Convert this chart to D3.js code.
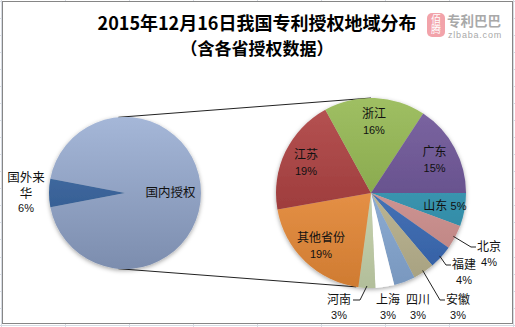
<!DOCTYPE html>
<html>
<head>
<meta charset="utf-8">
<script src="https://cdn.jsdelivr.net/npm/d3@7/dist/d3.min.js"></script>
<style>
  html, body { margin: 0; padding: 0; background: #fff; }
  svg { display: block; }
  text { font-family: "Liberation Sans", "Noto Sans CJK SC", sans-serif; }
</style>
</head>
<body>
<svg id="chart" width="515" height="327"></svg>
<script>
// ---- data ----
const titleLines = ["2015年12月16日我国专利授权地域分布", "（含各省授权数据）"];

// first pie: domestic vs foreign grants (percent of all grants)
const mainCategories = ["国内授权", "国外来华"];
const mainValues = [94.0, 6.0];

// second pie: breakdown of domestic grants by province (percent of all grants)
const provinces = ["山东", "北京", "福建", "安徽", "四川", "上海", "河南", "其他省份", "江苏", "浙江", "广东"];
const provinceValues = [5.3, 3.9, 3.8, 3.4, 3.4, 3.0, 2.7, 18.9, 18.6, 16.2, 14.8];

// ---- styles ----
const mainColors = ["#94a9d0", "#2d5e9e"];
const provinceColors = ["#2c98b8", "#dc9896", "#3b6fc0", "#c7bf98", "#8fb4e3", "#ffffff",
                        "#d5e3b8", "#f8933a", "#a93434", "#8db345", "#644a92"];
// labels that sit outside the second pie: [dx, dy] of the first line from its centre
const outsideLabels = {
  "北京": [118, 54], "福建": [93, 72], "安徽": [87, 107],
  "四川": [47, 107], "上海": [17, 107], "河南": [-32, 107]
};
const leaderSide = { "北京": "left", "福建": "left", "安徽": "left", "河南": "right" };

const W = 515, H = 327;
const svg = d3.select("#chart");
const defs = svg.append("defs");

// spreadsheet grid peeking around the chart frame
const grid = svg.append("g").attr("stroke", "#d6dbe3").attr("stroke-width", 1);
grid.selectAll("line.v").data(d3.range(1, W, 64)).join("line")
  .attr("x1", d => d + 0.5).attr("x2", d => d + 0.5).attr("y1", 0).attr("y2", H);
grid.selectAll("line.h").data(d3.range(0.5, H, 17.07)).join("line")
  .attr("y1", d => Math.round(d) + 0.5).attr("y2", d => Math.round(d) + 0.5).attr("x1", 0).attr("x2", W);

// chart frame
svg.append("rect").attr("x", 2.5).attr("y", 1.5).attr("width", 510).attr("height", 322)
  .attr("fill", "#fff").attr("stroke", "#868686").attr("stroke-width", 1);

// title
svg.append("text").attr("x", 257).attr("y", 30).attr("text-anchor", "middle")
  .attr("font-size", 18).attr("font-weight", "bold").attr("fill", "#000")
  .style("font-family", "'Noto Sans CJK SC', sans-serif")
  .text(titleLines[0]);
svg.append("text").attr("x", 257).attr("y", 55).attr("text-anchor", "middle")
  .attr("font-size", 17).attr("font-weight", "bold").attr("fill", "#000")
  .style("font-family", "'Noto Sans CJK SC', sans-serif")
  .text(titleLines[1]);

// site logo
const logo = svg.append("g");
logo.append("rect").attr("x", 427).attr("y", 13).attr("width", 18).attr("height", 24).attr("rx", 5)
  .attr("fill", "#f2a3aa");
logo.append("text").attr("x", 436).attr("y", 14.5)
  .attr("font-size", 10).attr("fill", "#fff")
  .style("font-family", "'Noto Sans CJK SC'").style("writing-mode", "vertical-rl")
  .attr("text-anchor", "start").text("佰腾");
logo.append("text").attr("x", 447).attr("y", 26).attr("font-size", 13.5).attr("font-weight", "bold")
  .attr("fill", "#a9a9a9").style("font-family", "'Noto Sans CJK SC'").text("专利巴巴");
logo.append("text").attr("x", 448).attr("y", 38).attr("font-size", 9).attr("letter-spacing", 0.8)
  .attr("fill", "#a9a9a9").text("zlbaba.com");

// soft shadow under the pies
const shadow = defs.append("filter").attr("id", "pieShadow")
  .attr("x", "-10%").attr("y", "-10%").attr("width", "120%").attr("height", "125%");
shadow.append("feDropShadow").attr("dx", 0).attr("dy", 1.5).attr("stdDeviation", 2)
  .attr("flood-color", "#000").attr("flood-opacity", 0.35);

function gradient(id, color, cy, r) {
  const c = d3.color(color);
  const g = defs.append("linearGradient").attr("id", id)
    .attr("gradientUnits", "userSpaceOnUse").attr("x1", 0).attr("x2", 0)
    .attr("y1", cy - r).attr("y2", cy + r);
  const top = color === "#ffffff" ? c : d3.interpolateRgb(c, "#fff")(0.16);
  const bot = color === "#ffffff" ? c : c.darker(0.5);
  g.append("stop").attr("offset", "0%").attr("stop-color", top);
  g.append("stop").attr("offset", "100%").attr("stop-color", bot);
  return `url(#${id})`;
}

const deg = Math.PI / 180;
const pt = (cx, cy, r, a) => [cx + r * Math.sin(a), cy - r * Math.cos(a)];

// ---- first pie ----
const c1 = { x: 125, y: 193, r: 76 };
const foreignShare = mainValues[1] / d3.sum(mainValues) * 2 * Math.PI;
const pie1 = d3.pie().sort(null).value(d => d)
  .startAngle(-Math.PI / 2 + foreignShare / 2).endAngle(1.5 * Math.PI + foreignShare / 2);
const arcs1 = pie1(mainValues);
const arc1 = d3.arc().innerRadius(0).outerRadius(c1.r);

// ---- second pie ----
const c2 = { x: 371, y: 193, r: 95 };
const pie2 = d3.pie().sort(null).value(d => d)
  .startAngle(Math.PI / 2).endAngle(Math.PI / 2 + 2 * Math.PI);
const arcs2 = pie2(provinceValues);
const arc2 = d3.arc().innerRadius(0).outerRadius(c2.r);

// connector lines between the two pies
const conn = svg.append("g").attr("stroke", "#222").attr("stroke-width", 1).attr("fill", "none");
[[pt(c1.x, c1.y, c1.r, -5 * deg), pt(c2.x, c2.y, c2.r, 0)],
 [pt(c1.x, c1.y, c1.r, 185 * deg), pt(c2.x, c2.y, c2.r, 189 * deg)]]
  .forEach(([a, b]) => conn.append("line").attr("x1", a[0]).attr("y1", a[1]).attr("x2", b[0]).attr("y2", b[1]));

const g1 = svg.append("g").attr("transform", `translate(${c1.x},${c1.y})`).attr("filter", "url(#pieShadow)");
g1.selectAll("path").data(arcs1).join("path")
  .attr("d", arc1)
  .attr("fill", (d, i) => gradient("g1_" + i, mainColors[i], 0, c1.r));

const g2 = svg.append("g").attr("transform", `translate(${c2.x},${c2.y})`).attr("filter", "url(#pieShadow)");
g2.selectAll("path").data(arcs2).join("path")
  .attr("d", arc2)
  .attr("fill", (d, i) => gradient("g2_" + i, provinceColors[i], 0, c2.r));

const pct = v => Math.round(v) + "%";
const labels = svg.append("g").attr("font-size", 12).attr("fill", "#111");

// first pie labels
{
  const a = arcs1[0];
  const m = (a.startAngle + a.endAngle) / 2;
  const p = pt(c1.x, c1.y, c1.r * 0.6, m);
  labels.append("text").attr("x", p[0]).attr("y", p[1] + 4).attr("text-anchor", "middle")
    .attr("font-size", 12.5).text(mainCategories[0]);
  const b = arcs1[1];
  const mb = (b.startAngle + b.endAngle) / 2;
  const q = pt(c1.x, c1.y, c1.r + 23, mb);
  const name = mainCategories[1];
  const t = labels.append("text").attr("text-anchor", "middle").attr("font-size", 12.5);
  t.append("tspan").attr("x", q[0]).attr("y", q[1] - 11).text(name.slice(0, 3));
  t.append("tspan").attr("x", q[0]).attr("y", q[1] + 5).text(name.slice(3));
  labels.append("text").attr("x", q[0]).attr("y", q[1] + 19).attr("text-anchor", "middle")
    .attr("font-size", 11).text(pct(mainValues[1]));
}

// second pie labels
arcs2.forEach((a, i) => {
  const name = provinces[i];
  const m = (a.startAngle + a.endAngle) / 2;
  if (outsideLabels[name]) {
    const [dx, dy] = outsideLabels[name];
    const x = c2.x + dx, y = c2.y + dy;
    const t = labels.append("text").attr("x", x).attr("y", y + 4).attr("text-anchor", "middle").text(name);
    labels.append("text").attr("x", x).attr("y", y + 19).attr("text-anchor", "middle")
      .attr("font-size", 11).text(pct(provinceValues[i]));
    const side = leaderSide[name];
    if (side) {
      const w = t.node().getComputedTextLength();
      const s = pt(c2.x, c2.y, c2.r * 0.98, m);
      const edge = side === "left" ? x - w / 2 - 1 : x + w / 2 + 2;
      const elbow = side === "left" ? edge - 5 : edge + 7;
      labels.append("polyline")
        .attr("points", [s, [elbow, y], [edge, y]].map(p => p.join(",")).join(" "))
        .attr("fill", "none").attr("stroke", "#222").attr("stroke-width", 1);
    }
  } else if (provinceValues[i] < 8) {
    const p = pt(c2.x, c2.y, c2.r * 0.79, m);
    const t = labels.append("text").attr("x", p[0]).attr("y", p[1] + 4).attr("text-anchor", "middle");
    t.append("tspan").text(name + " ");
    t.append("tspan").attr("font-size", 11).text(pct(provinceValues[i]));
  } else {
    const p = pt(c2.x, c2.y, c2.r * 0.76, m);
    labels.append("text").attr("x", p[0]).attr("y", p[1] - 3).attr("text-anchor", "middle").text(name);
    labels.append("text").attr("x", p[0]).attr("y", p[1] + 13).attr("text-anchor", "middle")
      .attr("font-size", 11).text(pct(provinceValues[i]));
  }
});
</script>
</body>
</html>
